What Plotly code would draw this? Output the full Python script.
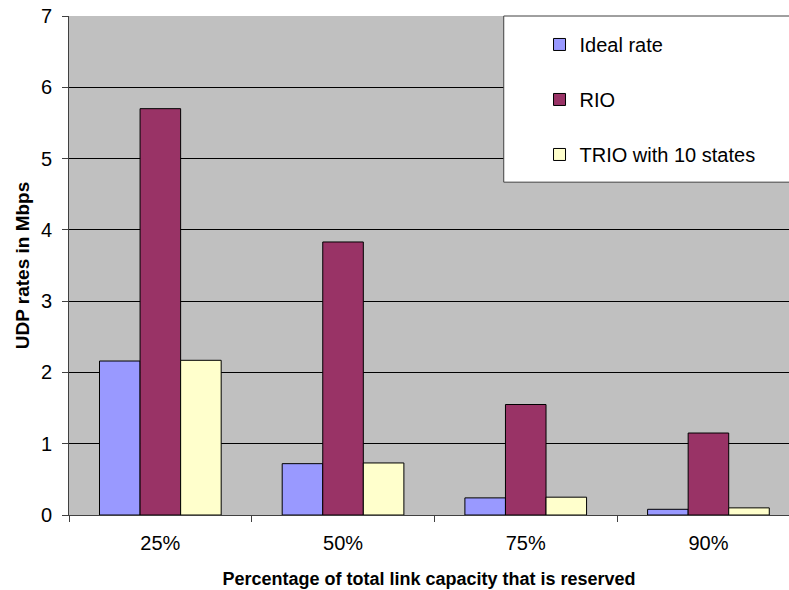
import plotly.graph_objects as go

# UDP throughput per reserved-capacity level
categories = ["25%", "50%", "75%", "90%"]
ideal_rate = [2.16, 0.72, 0.24, 0.08]
rio = [5.70, 3.83, 1.55, 1.15]
trio_10_states = [2.17, 0.73, 0.25, 0.10]

series_names = ["Ideal rate", "RIO", "TRIO with 10 states"]
series_colors = ["#9999FF", "#993366", "#FFFFCC"]

FONT = "Liberation Sans, Arial, sans-serif"

fig = go.Figure()
for name, vals, color in zip(series_names, [ideal_rate, rio, trio_10_states], series_colors):
    fig.add_trace(go.Bar(
        x=categories, y=vals, name=name, legendgroup=name,
        marker=dict(color=color, line=dict(color="#000000", width=1)),
    ))

# white legend panel in the upper-right corner of the plot
fig.add_shape(type="rect", xref="paper", yref="paper",
              x0=0.6038, x1=1.02, y0=0.667, y1=1.0,
              fillcolor="#FFFFFF", line=dict(color="#404040", width=1),
              layer="above")

fig.update_layout(
    width=789, height=590,
    margin=dict(l=69, r=0, t=16, b=75),
    paper_bgcolor="#FFFFFF",
    plot_bgcolor="#C0C0C0",
    font=dict(family=FONT, size=20, color="#000000"),
    barmode="group", bargap=0.334, bargroupgap=0,
    showlegend=True,
    legend=dict(
        x=0.6535, y=0.982, xanchor="left", yanchor="top",
        bgcolor="rgba(0,0,0,0)", borderwidth=0,
        font=dict(family=FONT, size=20, color="#000000"),
        tracegroupgap=26, itemclick=False,
    ),
    xaxis=dict(
        type="category", range=[-0.5, 3.441],
        showgrid=False, zeroline=False,
        showline=True, linecolor="#404040", linewidth=1,
        ticks="outside", tickson="boundaries", ticklen=6, tickcolor="#404040",
        ticklabelstandoff=10,
        title=dict(text="<b>Percentage of total link capacity that is reserved</b>",
                   font=dict(family=FONT, size=18), standoff=19),
    ),
    yaxis=dict(
        range=[0, 7], dtick=1, tick0=0,
        showgrid=True, gridcolor="#000000", gridwidth=1,
        zeroline=False,
        showline=True, linecolor="#404040", linewidth=1,
        ticks="outside", ticklen=6, tickcolor="#404040",
        ticklabelstandoff=6,
        title=dict(text="<b>UDP rates in Mbps</b>",
                   font=dict(family=FONT, size=19), standoff=6),
    ),
)

fig.write_html("out.html")
